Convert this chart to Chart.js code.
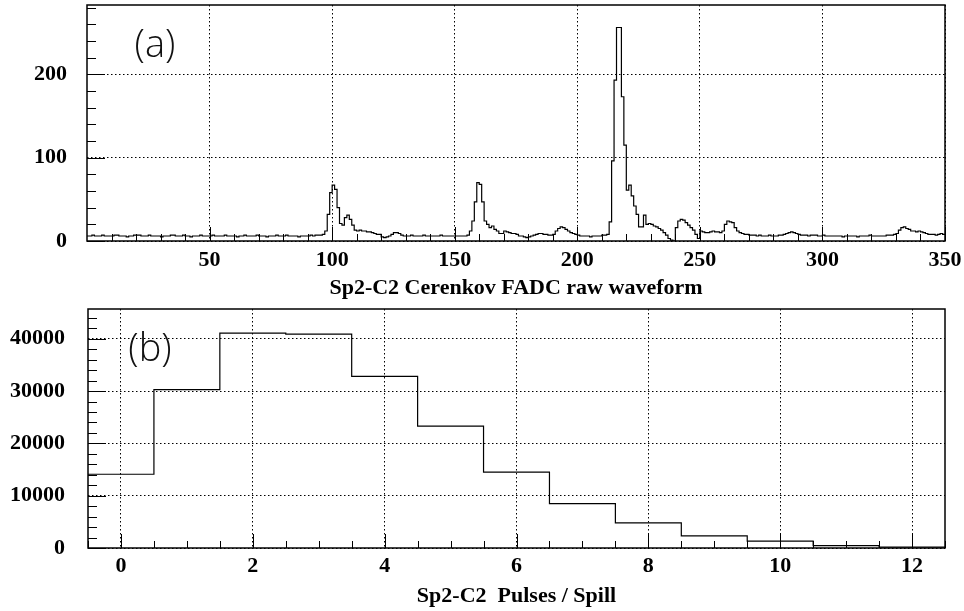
<!DOCTYPE html>
<html>
<head>
<meta charset="utf-8">
<script src="https://cdn.jsdelivr.net/npm/chart.js@4.4.1/dist/chart.umd.min.js"></script>
<style>
    html, body { margin: 0; padding: 0; background: #fff; }
    #wrap { position: relative; width: 964px; height: 611px; }
    canvas { position: absolute; left: 0; }
</style>
</head>
<body>
<div id="wrap">
    <canvas id="waveChart" width="964" height="300" style="top:0"></canvas>
    <canvas id="pulseChart" width="964" height="311" style="top:300px"></canvas>
</div>
<script>
// Sp2-C2 Cerenkov: (a) FADC raw waveform, (b) pulses per spill

// (a) one count per FADC sample, sample i covers [i, i+1)
const waveformCounts = [
    6, 6, 7, 6, 6, 6, 7, 6, 6, 6,
    6, 7, 7, 6, 6, 6, 5, 6, 6, 7,
    7, 7, 6, 6, 6, 7, 6, 6, 6, 6,
    5, 6, 6, 6, 7, 7, 6, 6, 6, 7,
    6, 6, 5, 6, 6, 6, 7, 6, 6, 6,
    6, 7, 6, 6, 6, 6, 7, 6, 6, 6,
    6, 5, 6, 6, 7, 6, 6, 6, 6, 7,
    6, 6, 6, 5, 6, 6, 6, 7, 6, 6,
    6, 7, 6, 6, 6, 6, 5, 6, 6, 6,
    6, 7, 6, 7, 7, 7, 8, 12, 32, 58,
    67, 62, 40, 21, 19, 28, 31, 26, 19, 13,
    12, 13, 12, 12, 11, 11, 10, 9, 8, 8,
    5, 4, 5, 6, 8, 10, 10, 9, 7, 6,
    6, 6, 7, 6, 6, 6, 6, 7, 6, 6,
    6, 6, 6, 6, 7, 6, 6, 6, 6, 6,
    6, 6, 6, 6, 6, 7, 12, 24, 47, 70,
    68, 47, 24, 20, 16, 18, 14, 12, 9, 9,
    12, 11, 10, 9, 9, 8, 6, 6, 5, 4,
    5, 6, 7, 8, 9, 9, 8, 8, 7, 7,
    8, 12, 15, 17, 16, 14, 12, 10, 9, 8,
    7, 6, 6, 6, 6, 5, 6, 6, 6, 6,
    7, 7, 8, 23, 96, 193, 256, 256, 173, 115,
    61, 67, 54, 42, 32, 17, 17, 31, 20, 21,
    20, 18, 17, 15, 13, 10, 7, 3, 1, 0,
    16, 24, 26, 25, 22, 19, 16, 13, 8, 3,
    12, 11, 10, 10, 11, 12, 11, 11, 10, 12,
    20, 24, 23, 22, 16, 12, 10, 9, 8, 8,
    7, 7, 7, 6, 7, 6, 6, 6, 7, 6,
    6, 6, 7, 7, 8, 9, 10, 11, 10, 9,
    8, 7, 7, 7, 6, 7, 7, 7, 6, 6,
    7, 6, 6, 6, 6, 6, 6, 6, 5, 6,
    6, 6, 6, 6, 5, 6, 6, 6, 6, 7,
    6, 6, 6, 6, 6, 6, 7, 7, 7, 8,
    9, 13, 16, 17, 15, 14, 12, 12, 11, 12,
    11, 10, 9, 8, 8, 8, 7, 8, 9, 8
];
const waveformXTicks = [50, 100, 150, 200, 250, 300, 350];
const waveformYTicks = [0, 100, 200];

// (b) number of spills with N pulses, N = 0..12
const pulseBins = [0, 1, 2, 3, 4, 5, 6, 7, 8, 9, 10, 11, 12];
const pulseCounts = [14100, 30300, 41100, 40900, 32800, 23300, 14500, 8500, 4800, 2300, 1300, 450, 170];
const pulseXTicks = [0, 2, 4, 6, 8, 10, 12];
const pulseYTicks = [0, 10000, 20000, 30000, 40000];

const serifBold = { family: '"Liberation Serif", "Times New Roman", serif', size: 22, weight: 'bold' };

// histogram as a step line: one point per bin low edge, plus the last upper edge
function histPoints(lowEdges, counts, width) {
    const pts = counts.map((c, i) => ({ x: lowEdges[i], y: c }));
    pts.push({ x: lowEdges[lowEdges.length - 1] + width, y: counts[counts.length - 1] });
    return pts;
}

// frame, inward ticks (ROOT style) and panel label
const rootFrame = {
    id: 'rootFrame',
    afterDraw(chart, args, opts) {
        const { ctx, chartArea: a, scales: { x, y } } = chart;
        ctx.save();
        ctx.strokeStyle = '#000';
        ctx.lineWidth = 1;
        ctx.beginPath();
        opts.xMinor.forEach(v => { const p = Math.round(x.getPixelForValue(v)) + 0.5; ctx.moveTo(p, a.bottom); ctx.lineTo(p, a.bottom - 7); });
        opts.xMajor.forEach(v => { const p = Math.round(x.getPixelForValue(v)) + 0.5; ctx.moveTo(p, a.bottom); ctx.lineTo(p, a.bottom - 14); });
        opts.yMinor.forEach(v => { const p = Math.round(y.getPixelForValue(v)) + 0.5; ctx.moveTo(a.left, p); ctx.lineTo(a.left + 9, p); });
        opts.yMajor.forEach(v => { const p = Math.round(y.getPixelForValue(v)) + 0.5; ctx.moveTo(a.left, p); ctx.lineTo(a.left + 18, p); });
        ctx.stroke();
        ctx.lineWidth = 1.5;
        ctx.strokeRect(a.left, a.top, a.right - a.left, a.bottom - a.top);
        ctx.fillStyle = '#111';
        ctx.font = '300 38px "Open Sans", "DejaVu Sans", sans-serif';
        ctx.textAlign = 'center';
        ctx.textBaseline = 'alphabetic';
        ctx.fillText(opts.label, opts.labelX, opts.labelY);
        ctx.restore();
    }
};

function steps(from, to, step) {
    const out = [];
    for (let v = from; v <= to + 1e-9; v += step) out.push(+v.toFixed(3));
    return out;
}

function histChart(canvasId, cfg) {
    return new Chart(document.getElementById(canvasId), {
        type: 'line',
        data: {
            datasets: [{
                data: cfg.points,
                stepped: 'before',
                borderColor: '#000',
                borderWidth: 1.2,
                pointRadius: 0,
                fill: false,
                tension: 0
            }]
        },
        options: {
            responsive: false,
            animation: false,
            layout: { padding: { left: 0, right: 19, top: cfg.top, bottom: 0 } },
            plugins: {
                legend: { display: false },
                tooltip: { enabled: false },
                rootFrame: cfg.frame
            },
            scales: {
                x: {
                    type: 'linear',
                    min: cfg.xMin,
                    max: cfg.xMax,
                    afterBuildTicks: s => { s.ticks = cfg.xTicks.map(v => ({ value: v })); },
                    afterFit: s => { s.height = cfg.xHeight; s.paddingLeft = 0; s.paddingRight = 0; },
                    ticks: { color: '#000', font: serifBold, padding: cfg.xPad, maxRotation: 0, autoSkip: false, callback: v => v },
                    grid: { color: '#000', lineWidth: 1, drawTicks: false },
                    border: { display: false, dash: [1.5, 2.5] },
                    title: { display: true, text: cfg.xTitle, color: '#000', font: serifBold, padding: { top: 0, bottom: cfg.titlePad } }
                },
                y: {
                    type: 'linear',
                    min: 0,
                    max: cfg.yMax,
                    afterBuildTicks: s => { s.ticks = cfg.yTicks.map(v => ({ value: v })); },
                    afterFit: s => { s.width = cfg.yWidth; s.paddingTop = 0; s.paddingBottom = 0; },
                    ticks: { color: '#000', font: serifBold, padding: cfg.yPad, callback: v => v },
                    grid: { color: '#000', lineWidth: 1, drawTicks: false },
                    border: { display: false, dash: [1.5, 2.5] }
                }
            }
        },
        plugins: [rootFrame]
    });
}

const sampleEdges = waveformCounts.map((c, i) => i);
histChart('waveChart', {
    points: histPoints(sampleEdges, waveformCounts, 1),
    top: 5, xMin: 0, xMax: 350, yMax: 283,
    xTicks: waveformXTicks, yTicks: waveformYTicks,
    xHeight: 59, yWidth: 87, xPad: 6, yPad: 20, titlePad: -2,
    xTitle: 'Sp2-C2 Cerenkov FADC raw waveform',
    frame: {
        xMinor: steps(10, 340, 10), xMajor: waveformXTicks,
        yMinor: steps(20, 280, 20), yMajor: waveformYTicks,
        label: '(a)', labelX: 155, labelY: 57
    }
});

const pulseEdges = pulseBins.map(n => n - 0.5);
histChart('pulseChart', {
    points: histPoints(pulseEdges, pulseCounts, 1),
    top: 9, xMin: -0.5, xMax: 12.5, yMax: 45700,
    xTicks: pulseXTicks, yTicks: pulseYTicks,
    xHeight: 63, yWidth: 88, xPad: 5, yPad: 23, titlePad: 1,
    xTitle: 'Sp2-C2  Pulses / Spill',
    frame: {
        xMinor: steps(-0.5, 12.5, 0.5), xMajor: pulseXTicks,
        yMinor: steps(2000, 44000, 2000), yMajor: pulseYTicks,
        label: '(b)', labelX: 150, labelY: 61
    }
});
</script>
</body>
</html>
